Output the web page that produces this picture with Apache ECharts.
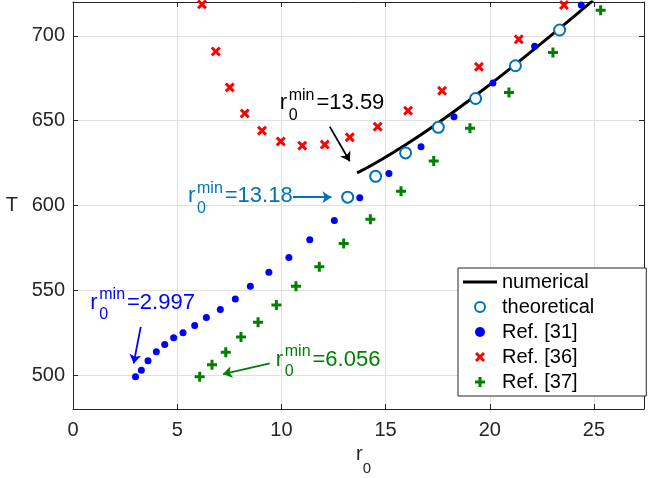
<!DOCTYPE html>
<html><head><meta charset="utf-8">
<script src="https://cdn.jsdelivr.net/npm/echarts@6/dist/echarts.min.js"></script>
<style>html,body{margin:0;padding:0;background:#fff}#c{width:652px;height:478px}</style>
</head><body><div id="c"></div>
<script>
// ---- data ----
const numericalX = [13.63, 14.52, 15.96, 17.53, 19.32, 21.23, 23.35, 24.95];
const numericalY = [619.2, 625.1, 635.8, 648.8, 664.9, 683.2, 704.4, 720.9];
const theoreticalX = [13.18, 14.52, 15.96, 17.53, 19.32, 21.23, 23.35];
const theoreticalY = [604.9, 617.2, 631.0, 646.1, 663.1, 682.4, 703.5];
const ref31X = [3.0, 3.28, 3.60, 4.0, 4.40, 4.83, 5.28, 5.84, 6.40, 7.07, 7.79, 8.51, 9.40, 10.36, 11.36, 12.54, 13.76, 15.16, 16.70, 18.28, 20.15, 22.15, 24.39];
const ref31Y = [499, 502.9, 508.4, 513.7, 518, 522, 524.9, 529.2, 533.9, 538.6, 544.9, 552.4, 560.6, 569.4, 579.8, 591.2, 604.5, 618.8, 634.7, 652.4, 672.2, 693.9, 718.2];
const ref36X = [6.19, 6.85, 7.52, 8.24, 9.07, 9.97, 11.0, 12.08, 13.28, 14.62, 16.08, 17.71, 19.48, 21.39, 23.56];
const ref36Y = [718.6, 690.8, 669.6, 654.3, 644.1, 637.8, 635.3, 635.9, 640.2, 646.5, 655.9, 667.6, 681.8, 698.0, 718.2];
const ref37X = [6.08, 6.67, 7.33, 8.06, 8.88, 9.76, 10.70, 11.82, 12.99, 14.27, 15.74, 17.31, 19.05, 20.92, 23.03, 25.32];
const ref37Y = [499, 506.1, 513.4, 522.5, 531.2, 541.4, 552.4, 563.9, 577.6, 591.9, 608.4, 626.3, 645.5, 666.6, 690.2, 715.1];
const seriesNames = ['numerical', 'theoretical', 'Ref. [31]', 'Ref. [36]', 'Ref. [37]'];
const minValues = ['13.59', '13.18', '2.997', '6.056'];
const xAxisTitle = 'r';
const xAxisSub = '0';
const yAxisTitle = 'T';

// ---- rendering ----
function pairs(xs, ys) { return xs.map((x, i) => [x, ys[i]]); }
const FONT = '"Liberation Sans", Arial, Helvetica, sans-serif';
const X_PATH = 'path://M0,2.1L2.1,0L5,2.9L7.9,0L10,2.1L7.1,5L10,7.9L7.9,10L5,7.1L2.1,10L0,7.9L2.9,5Z';
const PLUS_PATH = 'path://M3.5,0L6.5,0L6.5,3.5L10,3.5L10,6.5L6.5,6.5L6.5,10L3.5,10L3.5,6.5L0,6.5L0,3.5L3.5,3.5Z';
const LINE_ICON = 'path://M0,0L34,0L34,3L0,3Z';
const AX = '#262626';

function annRich(color) {
  return {
    g1: { width: 9, lineHeight: 3.8, fontSize: 1 },
    g2: { width: 29.4, lineHeight: 12, fontSize: 1 },
    sup: { fontSize: 16, lineHeight: 3.8, color: color, fontFamily: FONT },
    m: { fontSize: 22, lineHeight: 12, color: color, fontFamily: FONT },
    sub: { fontSize: 16, lineHeight: 12.2, color: color, fontFamily: FONT }
  };
}
function annot(x, y, val, color) {
  return {
    coord: [x, y], symbol: 'circle', symbolSize: 0,
    itemStyle: { color: 'rgba(0,0,0,0)' },
    label: {
      show: true, position: 'right', distance: 0, color: color,
      formatter: '{g1|}{sup|min}\n{m|r}{g2|}{m|=' + val + '}\n{g1|}{sub|0}',
      rich: annRich(color)
    }
  };
}
function arrow(x1, y1, x2, y2, color) {
  return [
    { coord: [x1, y1], lineStyle: { color: color, width: 1.8, type: 'solid' }, itemStyle: { color: color } },
    { coord: [x2, y2], lineStyle: { color: color, width: 1.8, type: 'solid' }, itemStyle: { color: color } }
  ];
}

const chart = echarts.init(document.getElementById('c'), null, { renderer: 'canvas' });
const xCommon = { type: 'value', min: 0, max: 27.4 };
const yCommon = { type: 'value', min: 480, max: 720 };
chart.setOption({
  animation: false,
  backgroundColor: '#fff',
  textStyle: { fontFamily: FONT },
  grid: { left: 73, right: 8, top: 2, bottom: 69, containLabel: false, outerBoundsMode: 'none' },
  legend: {
    data: [
      { name: seriesNames[0], icon: LINE_ICON },
      { name: seriesNames[1] },
      { name: seriesNames[2] },
      { name: seriesNames[3] },
      { name: seriesNames[4] }
    ],
    orient: 'vertical', left: 458, top: 268,
    itemWidth: 34, itemHeight: 10, itemGap: 5,
    padding: [4, 52, 4, 5],
    borderColor: AX, borderWidth: 1, backgroundColor: '#fff',
    selectedMode: false,
    textStyle: { fontSize: 20, color: '#000', fontFamily: FONT, lineHeight: 20 }
  },
  xAxis: [
    Object.assign({}, xCommon, {
      position: 'bottom',
      name: '{r|' + xAxisTitle + '}{s|' + xAxisSub + '}',
      nameLocation: 'middle', nameGap: 35,
      nameTextStyle: {
        rich: {
          r: { fontSize: 20, lineHeight: 20, verticalAlign: 'top', color: AX, fontFamily: FONT, padding: [0, 0, 0, 10] },
          s: { fontSize: 15, lineHeight: 14, verticalAlign: 'top', color: AX, fontFamily: FONT, padding: [16, 0, 0, 0] }
        }
      },
      axisLine: { show: true, onZero: false, lineStyle: { color: AX, width: 1 } },
      axisTick: { show: true, inside: true, length: 5, lineStyle: { color: AX } },
      axisLabel: { fontSize: 20, color: AX, fontFamily: FONT, margin: 11, showMaxLabel: false, showMinLabel: true },
      splitLine: { show: true, lineStyle: { color: '#e0e0e0', width: 1 } }
    }),
    Object.assign({}, xCommon, {
      position: 'top',
      axisLine: { show: true, onZero: false, lineStyle: { color: AX, width: 1 } },
      axisTick: { show: true, inside: true, length: 5, lineStyle: { color: AX } },
      axisLabel: { show: false }, splitLine: { show: false }
    })
  ],
  yAxis: [
    Object.assign({}, yCommon, {
      position: 'left',
      name: yAxisTitle, nameLocation: 'middle', nameGap: 55, nameRotate: 0,
      nameTextStyle: { fontSize: 20, color: AX, fontFamily: FONT },
      axisLine: { show: true, onZero: false, lineStyle: { color: AX, width: 1 } },
      axisTick: { show: true, inside: true, length: 5, lineStyle: { color: AX } },
      axisLabel: { fontSize: 20, color: AX, fontFamily: FONT, margin: 8, showMinLabel: false, showMaxLabel: false },
      splitLine: { show: true, lineStyle: { color: '#e0e0e0', width: 1 } }
    }),
    Object.assign({}, yCommon, {
      position: 'right',
      axisLine: { show: true, onZero: false, lineStyle: { color: AX, width: 1 } },
      axisTick: { show: true, inside: true, length: 5, lineStyle: { color: AX } },
      axisLabel: { show: false }, splitLine: { show: false }
    })
  ],
  series: [
    {
      name: seriesNames[0], type: 'line', data: pairs(numericalX, numericalY),
      symbol: 'none', smooth: true, clip: true,
      lineStyle: { color: '#000', width: 3, opacity: 1 }, itemStyle: { color: '#000', opacity: 1 }, z: 3
    },
    {
      name: seriesNames[1], type: 'scatter', data: pairs(theoreticalX, theoreticalY),
      symbol: 'emptyCircle', symbolSize: 11,
      itemStyle: { color: '#0072BD', borderColor: '#0072BD', borderWidth: 2, opacity: 1 }, z: 4
    },
    {
      name: seriesNames[2], type: 'scatter', data: pairs(ref31X, ref31Y),
      symbol: 'circle', symbolSize: 7, itemStyle: { color: '#0000FF', opacity: 1 }, z: 4
    },
    {
      name: seriesNames[3], type: 'scatter', data: pairs(ref36X, ref36Y),
      symbol: X_PATH, symbolSize: 10, itemStyle: { color: '#FF0000', opacity: 1 }, z: 4
    },
    {
      name: seriesNames[4], type: 'scatter', data: pairs(ref37X, ref37Y),
      symbol: PLUS_PATH, symbolSize: 10, itemStyle: { color: '#008000', opacity: 1 }, z: 4
    },
    {
      name: 'annotations', type: 'scatter', data: [], z: 5, silent: true,
      markPoint: {
        silent: true, animation: false,
        data: [
          annot(9.92, 657.9, minValues[0], '#000000'),
          annot(5.52, 603.1, minValues[1], '#0072BD'),
          annot(0.83, 540.3, minValues[2], '#0000FF'),
          annot(9.73, 506.5, minValues[3], '#008000')
        ]
      },
      markLine: {
        silent: true, animation: false, symbol: ['none', 'arrow'], symbolSize: 9,
        label: { show: false },
        data: [
          arrow(12.32, 646.5, 13.28, 626.1, '#000000'),
          arrow(10.56, 604.9, 12.40, 604.9, '#0072BD'),
          arrow(3.25, 528.4, 2.91, 506.9, '#0000FF'),
          arrow(9.44, 506.9, 7.20, 500.6, '#008000')
        ]
      }
    }
  ]
});
</script>
</body></html>
